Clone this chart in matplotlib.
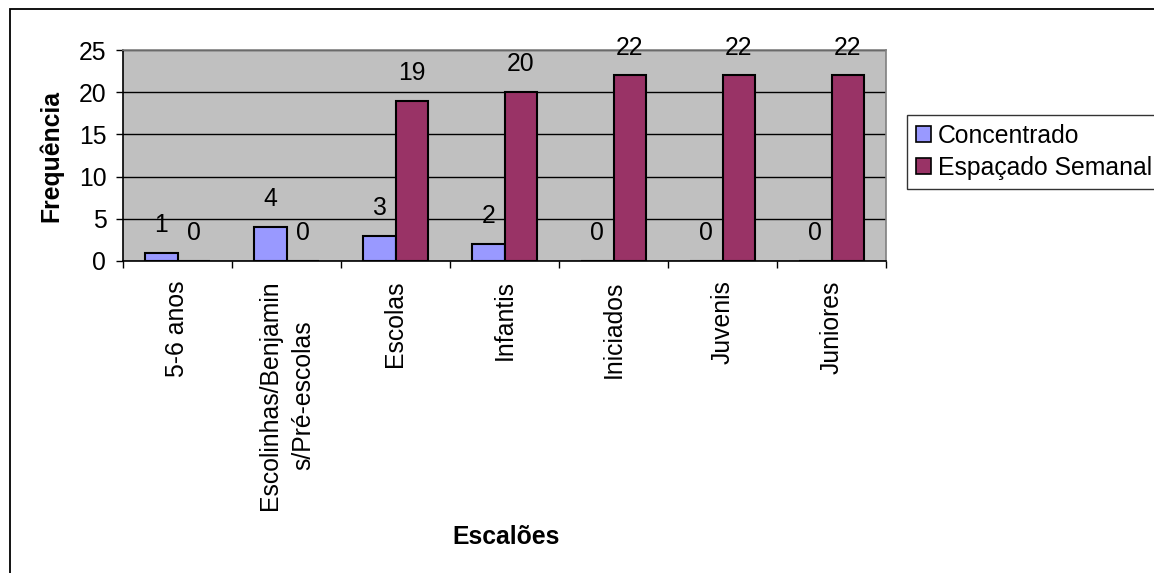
import matplotlib
matplotlib.use("Agg")
import matplotlib.pyplot as plt
from matplotlib.patches import Rectangle, Patch
import numpy as np

categories = ["5-6 anos", "Escolinhas/Benjamin\ns/Pré-escolas", "Escolas",
              "Infantis", "Iniciados", "Juvenis", "Juniores"]
concentrado = [1, 4, 3, 2, 0, 0, 0]
espacado = [0, 0, 19, 20, 22, 22, 22]
series_names = ["Concentrado", "Espaçado Semanal"]
y_ticks = [0, 5, 10, 15, 20, 25]

plt.rcParams["font.family"] = ["Liberation Sans", "DejaVu Sans"]
FS = 17.8

W, H = 1154, 573
fig = plt.figure(figsize=(W / 100, H / 100), dpi=100)
fig.patch.set_facecolor("white")

ax = fig.add_axes([123 / W, 1 - 261 / H, (886 - 123) / W, (261 - 50) / H])
ax.set_facecolor("#C0C0C0")

x = np.arange(len(categories))
bw = 0.30
b1 = ax.bar(x - bw / 2, concentrado, width=bw, color="#9999FF",
            edgecolor="black", linewidth=1.5, zorder=3)
b2 = ax.bar(x + bw / 2, espacado, width=bw, color="#993366",
            edgecolor="black", linewidth=1.5, zorder=3)

for bars, vals in ((b1, concentrado), (b2, espacado)):
    for rect, v in zip(bars, vals):
        ax.annotate(str(v), (rect.get_x() + rect.get_width() / 2, v),
                    xytext=(0, 20), textcoords="offset points",
                    ha="center", va="center", fontsize=FS, zorder=4,
                    annotation_clip=False)

ax.set_xlim(-0.5, len(categories) - 0.5)
ax.set_ylim(0, 25)
ax.set_yticks(y_ticks)
ax.set_yticklabels([str(t) for t in y_ticks], fontsize=FS)
ax.tick_params(axis="y", direction="out", length=5, width=1, pad=7,
               color="black")

# category boundaries carry the tick marks, centers carry the labels
ax.set_xticks(np.arange(len(categories) + 1) - 0.5)
ax.set_xticklabels([])
ax.tick_params(axis="x", which="major", direction="out", length=5, width=1,
               color="black")
ax.set_xticks(x, minor=True)
ax.set_xticklabels(categories, minor=True, rotation=90, fontsize=FS,
                   ha="center", va="top", linespacing=1.5)
ax.tick_params(axis="x", which="minor", length=0, pad=14)

ax.yaxis.grid(True, color="black", linewidth=1.0)
ax.set_axisbelow(True)

for side in ("top", "right"):
    ax.spines[side].set_color("#808080")
    ax.spines[side].set_linewidth(1.2)
for side in ("left", "bottom"):
    ax.spines[side].set_color("black")
    ax.spines[side].set_linewidth(1.2)

ax.set_ylabel("Frequência", fontsize=FS, fontweight="bold", labelpad=11)
fig.text(506 / W, 1 - 537 / H, "Escalões", fontsize=FS, fontweight="bold",
         ha="center", va="center")

handles = [Patch(facecolor="#9999FF", edgecolor="black", linewidth=1.2),
           Patch(facecolor="#993366", edgecolor="black", linewidth=1.2)]
leg = fig.legend(handles, series_names, loc="upper left",
                 bbox_to_anchor=(907 / W, 1 - 115 / H), borderaxespad=0,
                 fontsize=FS, frameon=True, fancybox=False, shadow=False,
                 handlelength=0.6, handleheight=0.6, handletextpad=0.3,
                 borderpad=0.36, labelspacing=0.33)
leg.get_frame().set_edgecolor("black")
leg.get_frame().set_linewidth(1.0)

# outer chart frame
fig.patches.append(Rectangle((9.5 / W, -0.1), 2.0, 1 - 9.5 / H + 0.1,
                             transform=fig.transFigure, fill=False,
                             edgecolor="black", linewidth=1.3, zorder=0))

fig.savefig("out.png", dpi=100)
